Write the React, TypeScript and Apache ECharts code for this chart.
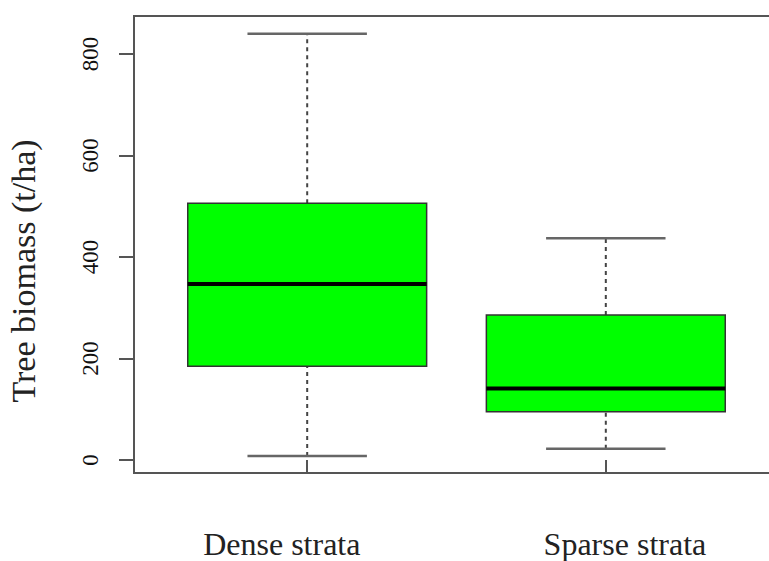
import React, { useEffect, useRef } from "react";
import * as echarts from "echarts";

// ---- data ----
const categories = ["Dense strata", "Sparse strata"];
const lowerWhisker = [8, 22];
const q1 = [185, 95];
const median = [347, 141];
const q3 = [506, 286];
const upperWhisker = [840, 437];
const yTickValues = [0, 200, 400, 600, 800];
const xTickValues = [1, 2];

const FONT = "Liberation Serif";

export default function App() {
  const ref = useRef<HTMLDivElement>(null);
  useEffect(() => {
    document.body.style.margin = "0";
    if (!ref.current) return;
    const chart = echarts.init(ref.current, undefined, { renderer: "svg" });

    const data = categories.map((_, i) => [
      i + 1,
      lowerWhisker[i],
      q1[i],
      median[i],
      q3[i],
      upperWhisker[i],
    ]);

    const renderItem = (params: any, api: any) => {
      const x = api.value(0);
      const lo = api.coord([x, api.value(1)]);
      const b1 = api.coord([x, api.value(2)]);
      const md = api.coord([x, api.value(3)]);
      const b3 = api.coord([x, api.value(4)]);
      const hi = api.coord([x, api.value(5)]);
      const boxW = api.size([0.8, 0])[0];
      const capW = api.size([0.4, 0])[0];
      const cx = lo[0];
      const whiskerStyle = { stroke: "#444", lineWidth: 2, lineDash: [4, 4] };
      const capStyle = { stroke: "#666", lineWidth: 2.5 };
      return {
        type: "group",
        children: [
          { type: "line", shape: { x1: cx, y1: b3[1], x2: cx, y2: hi[1] }, style: whiskerStyle },
          { type: "line", shape: { x1: cx, y1: lo[1], x2: cx, y2: b1[1] }, style: whiskerStyle },
          { type: "line", shape: { x1: cx - capW / 2, y1: hi[1], x2: cx + capW / 2, y2: hi[1] }, style: capStyle },
          { type: "line", shape: { x1: cx - capW / 2, y1: lo[1], x2: cx + capW / 2, y2: lo[1] }, style: capStyle },
          {
            type: "rect",
            shape: { x: cx - boxW / 2, y: b3[1], width: boxW, height: b1[1] - b3[1] },
            style: { fill: "#00ff00", stroke: "#333", lineWidth: 1.5 },
          },
          {
            type: "line",
            shape: { x1: cx - boxW / 2, y1: md[1], x2: cx + boxW / 2, y2: md[1] },
            style: { stroke: "#000", lineWidth: 4 },
          },
        ],
      };
    };

    chart.setOption({
      animation: false,
      backgroundColor: "#fff",
      textStyle: { fontFamily: FONT },
      grid: {
        left: 134,
        width: 645,
        top: 16,
        bottom: 88,
        outerBoundsMode: "none",
        containLabel: false,
        show: true,
        borderColor: "#555",
        borderWidth: 2,
        backgroundColor: "transparent",
      },
      xAxis: {
        type: "value",
        min: 0.42,
        max: 2.58,
        splitLine: { show: false },
        axisLine: { show: false },
        axisTick: { show: true, customValues: xTickValues, length: 13, lineStyle: { color: "#555", width: 2 } },
        axisLabel: {
          customValues: [0.915, 2.064],
          formatter: (v: number) => (v < 1.5 ? categories[0] : categories[1]),
          fontFamily: FONT,
          fontSize: 32,
          color: "#222",
          margin: 55,
        },
      },
      yAxis: {
        type: "value",
        min: -25.6,
        max: 875,
        name: "Tree biomass (t/ha)",
        nameLocation: "middle",
        nameRotate: 90,
        nameGap: 94,
        nameTextStyle: { fontFamily: FONT, fontSize: 34, color: "#222", padding: [0, 53, 0, 0] },
        splitLine: { show: false },
        axisLine: { show: false },
        axisTick: { show: true, customValues: yTickValues, length: 15, lineStyle: { color: "#555", width: 2 } },
        axisLabel: {
          customValues: yTickValues,
          rotate: 90,
          fontFamily: FONT,
          fontSize: 23,
          color: "#111",
          margin: 32,
        },
      },
      series: [
        {
          type: "custom",
          renderItem,
          data,
          encode: { x: 0, y: [1, 2, 3, 4, 5] },
          clip: false,
        },
      ],
    });
    return () => chart.dispose();
  }, []);
  return <div ref={ref} style={{ width: 769, height: 561, overflow: "hidden" }} />;
}
